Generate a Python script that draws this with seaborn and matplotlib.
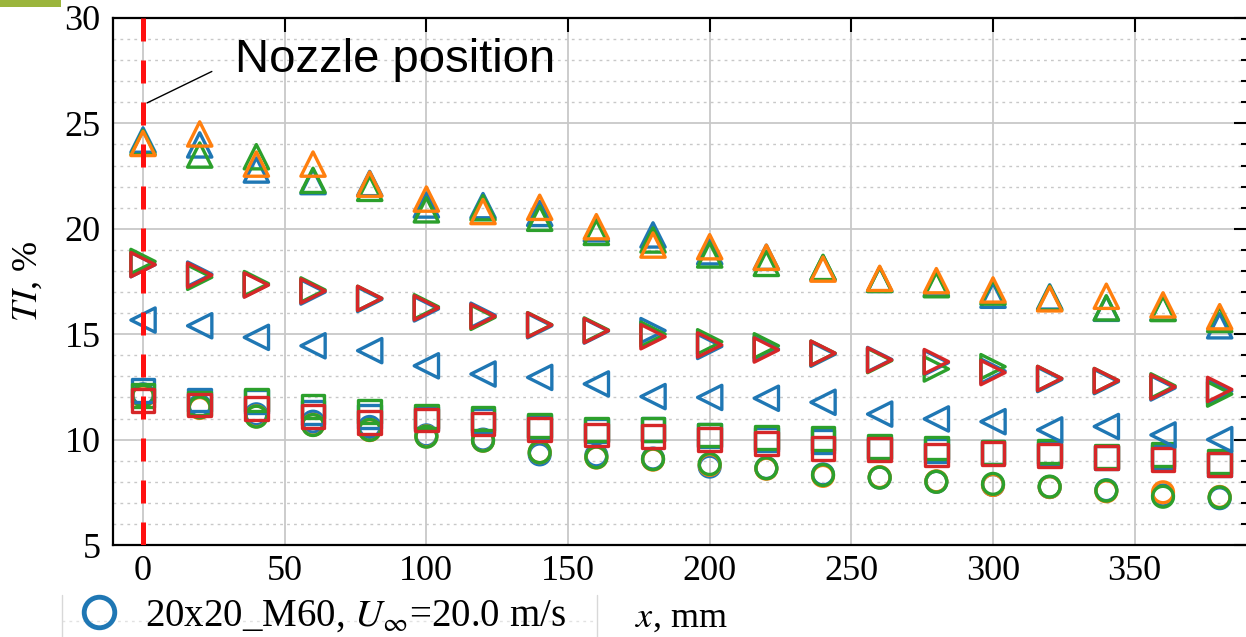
import matplotlib
matplotlib.use("Agg")
import matplotlib.pyplot as plt
from matplotlib.lines import Line2D
from matplotlib.patches import Rectangle
from matplotlib.ticker import MultipleLocator
import seaborn as sns

# Streamwise stations downstream of the nozzle (mm)
x_mm = [0, 20, 40, 60, 80, 100, 120, 140, 160, 180,
        200, 220, 240, 260, 280, 300, 320, 340, 360, 380]

# Turbulence intensity (%) per marker / colour series
circle_blue = [12.15, 11.60, 11.20, 10.85, 10.60, 10.20, 10.00, 9.30, 9.25, 9.10,
               8.72, 8.65, 8.35, 8.20, 8.00, 7.85, 7.75, 7.60, 7.35, 7.22]
circle_orange = [12.05, 11.50, 11.10, 10.70, 10.45, 10.15, 9.95, 9.40, 9.15, 9.05,
                 8.80, 8.62, 8.28, 8.22, 8.02, 7.85, 7.75, 7.55, 7.50, 7.28]
circle_green = [12.08, 11.53, 11.09, 10.69, 10.46, 10.14, 9.95, 9.40, 9.16, 9.07,
                8.84, 8.64, 8.32, 8.20, 8.00, 7.90, 7.77, 7.58, 7.29, 7.26]

square_blue = [12.32, 11.88, 11.80, 11.30, 11.10, 11.00, 10.90, 10.60, 10.42, 10.46,
               10.20, 10.00, 9.90, 9.60, 9.50, 9.40, 9.35, 9.15, 9.20, 8.80]
square_green = [12.10, 11.70, 11.88, 11.56, 11.32, 11.09, 11.01, 10.69, 10.50, 10.46,
                10.22, 10.08, 10.06, 9.66, 9.60, 9.40, 9.43, 9.20, 9.30, 8.95]
square_red = [11.85, 11.64, 11.48, 11.09, 10.82, 10.93, 10.74, 10.46, 10.22, 10.14,
              10.00, 9.82, 9.59, 9.54, 9.27, 9.35, 9.24, 9.13, 9.07, 8.80]

up_blue = [24.21, 23.98, 22.79, 22.24, 22.15, 21.13, 21.10, 20.73, 20.00, 19.71,
           18.91, 18.65, 18.15, 17.60, 17.40, 16.85, 16.77, 16.23, 16.25, 15.40]
up_green = [24.10, 23.50, 23.42, 22.30, 21.92, 20.90, 21.00, 20.50, 19.83, 19.47,
            18.76, 18.36, 18.17, 17.60, 17.35, 17.00, 16.72, 16.25, 16.22, 15.70]
up_orange = [24.05, 24.50, 23.07, 23.07, 22.12, 21.41, 20.82, 21.02, 20.10, 19.23,
             19.15, 18.65, 18.09, 17.65, 17.54, 17.10, 16.68, 16.80, 16.39, 15.83]

right_blue = [18.30, 17.85, 17.35, 17.00, 16.65, 16.20, 15.90, 15.40, 15.15, 15.17,
              14.42, 14.30, 14.05, 13.80, 13.65, 13.25, 12.85, 12.75, 12.45, 12.30]
right_green = [18.45, 17.70, 17.40, 17.10, 16.70, 16.30, 15.80, 15.45, 15.20, 15.00,
               14.64, 14.45, 14.10, 13.75, 13.35, 13.46, 12.90, 12.80, 12.55, 12.16]
right_red = [18.30, 17.80, 17.33, 17.05, 16.70, 16.25, 15.85, 15.44, 15.17, 14.88,
             14.49, 14.25, 14.10, 13.78, 13.70, 13.18, 12.90, 12.80, 12.50, 12.38]

left_blue = [15.67, 15.40, 14.85, 14.45, 14.22, 13.50, 13.11, 12.95, 12.64, 12.04,
             12.00, 11.96, 11.77, 11.21, 10.98, 10.85, 10.46, 10.62, 10.22, 10.00]

legend_label = "20x20_M60, $U_\\infty$=20.0 m/s"
x_ticks = [0, 50, 100, 150, 200, 250, 300, 350]
y_ticks = [5, 10, 15, 20, 25, 30]

BLUE, ORANGE, GREEN, RED = "#1f77b4", "#ff7f0e", "#2ca02c", "#d62728"

sns.set_style("white")
plt.rcParams["font.family"] = ["Liberation Serif", "DejaVu Serif"]
plt.rcParams["mathtext.fontset"] = "stix"
plt.rcParams["text.color"] = "black"
plt.rcParams["axes.labelcolor"] = "black"

W, H = 1246, 637
fig = plt.figure(figsize=(W / 100, H / 100), dpi=100)
ax = fig.add_axes([113 / W, (H - 545) / H, (1248 - 113) / W, 527 / H])

series = [
    (circle_blue, "o", BLUE, 15.0),
    (circle_orange, "o", ORANGE, 15.0),
    (circle_green, "o", GREEN, 15.0),
    (square_blue, "s", BLUE, 16.5),
    (square_green, "s", GREEN, 16.5),
    (square_red, "s", RED, 16.5),
    (up_blue, "^", BLUE, 17.5),
    (up_green, "^", GREEN, 17.5),
    (up_orange, "^", ORANGE, 17.5),
    (right_blue, ">", BLUE, 17.5),
    (right_green, ">", GREEN, 17.5),
    (right_red, ">", RED, 17.5),
    (left_blue, "<", BLUE, 17.5),
]
for vals, mk, col, ms in series:
    sns.scatterplot(x=x_mm, y=vals, marker=mk, s=ms ** 2, facecolor="none",
                    edgecolor=col, linewidth=2.4, ax=ax, zorder=3, legend=False)

# nozzle exit plane
ax.axvline(0, color="#ff1010", lw=3.6, dashes=(4.6, 3.8), zorder=5)
ax.annotate("Nozzle position", xy=(1.4, 25.97), xytext=(32.5, 28.0),
            fontsize=34, family="Liberation Sans", color="black",
            ha="left", va="center",
            arrowprops=dict(arrowstyle="-", color="black", lw=1.0,
                            relpos=(0, 0.5), shrinkA=16, shrinkB=0))

ax.set_xlim(-10.6, 390)
ax.set_ylim(5, 30)
ax.set_xticks(x_ticks)
ax.set_yticks(y_ticks)
ax.yaxis.set_minor_locator(MultipleLocator(1))
ax.tick_params(which="both", direction="in", top=True, right=True,
               labelsize=26, width=1.5, colors="black")
ax.tick_params(which="major", length=10)
ax.tick_params(which="minor", length=5)
ax.tick_params(axis="x", pad=7)
ax.tick_params(axis="y", pad=9)
ax.grid(which="major", color="#c8c8c8", lw=1.3, zorder=0)
ax.grid(which="minor", axis="y", color="#c8c8c8", lw=1.0, ls=(0, (2, 3)), zorder=0)
ax.set_axisbelow(True)
for sp in ax.spines.values():
    sp.set_linewidth(1.6)
    sp.set_color("black")

ax.set_xlabel("$x$, mm", fontsize=26)
ax.set_ylabel("$TI$, %", fontsize=26)
ax.xaxis.set_label_coords((681 - 113) / 1135, (545 - 618) / 527)
ax.xaxis.label.set_va("center")
ax.yaxis.set_label_coords((28 - 113) / 1135, 0.5)
ax.yaxis.label.set_va("center")

# legend panel
fig.add_artist(Line2D([62 / W, 597 / W], [1 - 621 / H] * 2, transform=fig.transFigure,
                      color="#e2e2e2", lw=1.0, ls=(0, (2, 3))))
for px in (62, 597):
    fig.add_artist(Line2D([px / W] * 2, [0, 1 - 595 / H], transform=fig.transFigure,
                          color="#d8d8d8", lw=1.0))
handle = Line2D([], [], marker="o", ls="", markersize=22, markerfacecolor="none",
                markeredgecolor=BLUE, markeredgewidth=3.5)
fig.legend(handles=[handle], labels=[legend_label], loc="center left",
           bbox_to_anchor=(71.8 / W, 1 - 616 / H), frameon=False, fontsize=28,
           handlelength=1.4, handletextpad=0.48, borderpad=0, borderaxespad=0)

fig.add_artist(Rectangle((0, 1 - 7 / H), 61 / W, 7 / H, transform=fig.transFigure,
                         facecolor="#9bb53c", edgecolor="none"))

fig.savefig("out.png", dpi=100)
